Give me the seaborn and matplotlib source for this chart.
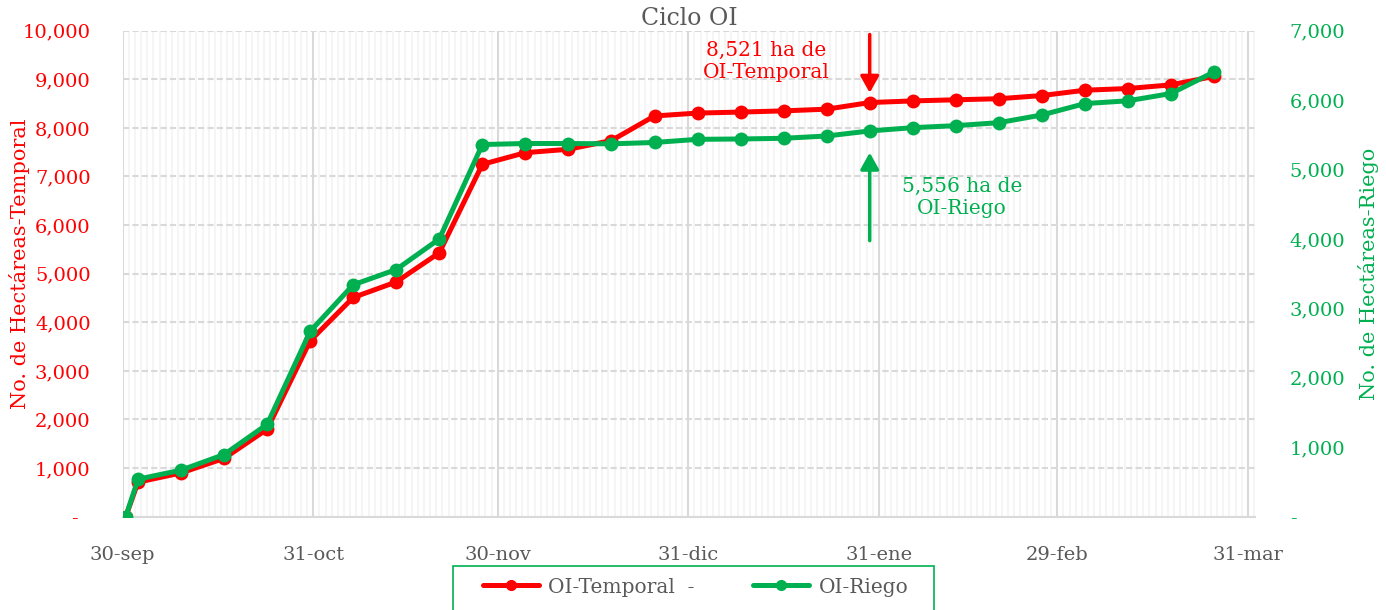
import seaborn as sns
import matplotlib.pyplot as plt
import matplotlib.dates as mdates
from matplotlib.lines import Line2D
from matplotlib.patches import Rectangle
from matplotlib.ticker import FixedLocator, FuncFormatter, MultipleLocator
import pandas as pd

# Datos (cortes semanales del ciclo OI 2019-2020)
fechas = ['2019-09-30', '2019-10-02', '2019-10-09', '2019-10-16', '2019-10-23',
          '2019-10-30', '2019-11-06', '2019-11-13', '2019-11-20', '2019-11-27',
          '2019-12-04', '2019-12-11', '2019-12-18', '2019-12-25', '2020-01-01',
          '2020-01-08', '2020-01-15', '2020-01-22', '2020-01-29', '2020-02-05',
          '2020-02-12', '2020-02-19', '2020-02-26', '2020-03-04', '2020-03-11',
          '2020-03-18', '2020-03-25']
temporal = [0, 710, 900, 1200, 1800, 3620, 4510, 4830, 5430, 7250,
            7490, 7560, 7740, 8245, 8305, 8325, 8350, 8385, 8521, 8555,
            8578, 8600, 8665, 8775, 8810, 8885, 9060]
riego = [0, 540, 670, 895, 1330, 2670, 3340, 3560, 4000, 5360,
         5375, 5375, 5370, 5390, 5435, 5440, 5450, 5483, 5556, 5603,
         5632, 5675, 5786, 5950, 5990, 6095, 6405]

tick_fechas = ['2019-09-30', '2019-10-31', '2019-11-30', '2019-12-31',
               '2020-01-31', '2020-02-29', '2020-03-31']
tick_etiquetas = ['30-sep', '31-oct', '30-nov', '31-dic', '31-ene', '29-feb', '31-mar']

ROJO = '#FF0000'
VERDE = '#00B050'
GRIS = '#595959'
REJILLA = '#D9D9D9'

# Excel centra cada punto dentro de su dia
df = pd.DataFrame({
    'fecha': pd.to_datetime(fechas) + pd.Timedelta(hours=12),
    'temporal': temporal,
    'riego': riego,
})

sns.set_style('white')
plt.rcParams['font.family'] = ['DejaVu Serif']

fig = plt.figure(figsize=(13.86, 6.10), dpi=100)
ax = fig.add_axes([0.0885, 0.153, 0.817, 0.7967])
ax2 = ax.twinx()

sns.lineplot(data=df, x='fecha', y='temporal', ax=ax, color=ROJO,
             linewidth=3.6, marker='o', markersize=10,
             markeredgecolor=ROJO, markeredgewidth=0, legend=False)
sns.lineplot(data=df, x='fecha', y='riego', ax=ax2, color=VERDE,
             linewidth=3.6, marker='o', markersize=10,
             markeredgecolor=VERDE, markeredgewidth=0, legend=False)

# Ejes
ax.set_xlim(pd.Timestamp('2019-09-30'), pd.Timestamp('2020-04-01 04:00'))
ax.set_ylim(0, 10000)
ax2.set_ylim(0, 7000)
ax.yaxis.set_major_locator(MultipleLocator(1000))
ax2.yaxis.set_major_locator(MultipleLocator(1000))
ax.yaxis.set_major_formatter(FuncFormatter(lambda v, p: '-  ' if v == 0 else f'{v:,.0f}'))
ax2.yaxis.set_major_formatter(FuncFormatter(lambda v, p: '-' if v == 0 else f'{v:,.0f}'))

ax.xaxis.set_major_locator(FixedLocator(mdates.date2num(pd.to_datetime(tick_fechas))))
ax.xaxis.set_major_formatter(FuncFormatter(lambda v, p: tick_etiquetas[p] if p is not None and p < len(tick_etiquetas) else ''))
ax.xaxis.set_minor_locator(mdates.DayLocator())

ax.tick_params(axis='x', which='major', direction='out', length=8, width=1.5,
               color=REJILLA, labelcolor=GRIS, labelsize=14, pad=13)
ax.tick_params(axis='x', which='minor', length=0)
ax.tick_params(axis='y', length=0, pad=23, labelcolor=ROJO, labelsize=14)
ax2.tick_params(axis='y', length=0, pad=25, labelcolor=VERDE, labelsize=14)

# Rejilla
ax.set_axisbelow(True)
ax.grid(which='minor', axis='x', color='#F3F3F3', linewidth=1.2)
ax.grid(which='major', axis='x', color=REJILLA, linewidth=1.5)
ax.grid(which='major', axis='y', color=REJILLA, linewidth=1.5, linestyle=(0, (3, 1.5)))

for s in ['top', 'left', 'right']:
    ax.spines[s].set_visible(False)
ax.spines['bottom'].set_color(REJILLA)
ax.spines['bottom'].set_linewidth(1.5)
for s in ax2.spines.values():
    s.set_visible(False)

# Etiquetas
ax.set_xlabel('')
ax.set_ylabel('No. de Hectáreas-Temporal', color=ROJO, fontsize=15)
ax2.set_ylabel('No. de Hectáreas-Riego', color=VERDE, fontsize=15)
ax.yaxis.set_label_coords(-0.082, 0.52)
ax2.yaxis.set_label_coords(1.091, 0.5)
ax.set_title('Ciclo OI', color=GRIS, fontsize=17, pad=4)

# Anotaciones del corte al 29-ene
i = 18
x_corte = df['fecha'][i]
ax.annotate('', xy=(x_corte, temporal[i]), xytext=(0, 49), textcoords='offset points',
            arrowprops=dict(arrowstyle='-|>,head_length=0.5,head_width=0.28',
                            mutation_scale=20, color=ROJO, lw=2.5,
                            shrinkA=0, shrinkB=7))
ax.annotate(f'{temporal[i]:,} ha de\nOI-Temporal', xy=(x_corte, temporal[i]),
            xytext=(-74.7, 29.7), textcoords='offset points',
            ha='center', va='center', color=ROJO, fontsize=14.5, linespacing=1.25)
ax2.annotate('', xy=(x_corte, riego[i]), xytext=(0, -79), textcoords='offset points',
             arrowprops=dict(arrowstyle='-|>,head_length=0.5,head_width=0.28',
                             mutation_scale=20, color=VERDE, lw=2.5,
                             shrinkA=0, shrinkB=15.6))
ax2.annotate(f'{riego[i]:,} ha de\nOI-Riego', xy=(x_corte, riego[i]),
             xytext=(66.5, -48), textcoords='offset points',
             ha='center', va='center', color=VERDE, fontsize=14.5, linespacing=1.25)

# Leyenda (el recuadro queda cortado por el borde inferior, como en el original)
handles = [Line2D([], [], color=ROJO, linewidth=3.6, marker='o', markersize=7),
           Line2D([], [], color=VERDE, linewidth=3.6, marker='o', markersize=7)]
fig.legend(handles, ['OI-Temporal  -', 'OI-Riego'], loc='center',
           bbox_to_anchor=(0.5018, 0.0377), ncol=2, frameon=False,
           fontsize=14.5, labelcolor=GRIS, handlelength=2.8,
           handletextpad=0.45, columnspacing=2.9, borderpad=0, borderaxespad=0)
fig.add_artist(Rectangle((453 / 1386, -0.05), (934 - 453) / 1386, 0.05 + 0.0721,
                         transform=fig.transFigure, fill=False,
                         edgecolor=VERDE, linewidth=1.2))

fig.savefig('out.png', dpi=100, facecolor='white')
